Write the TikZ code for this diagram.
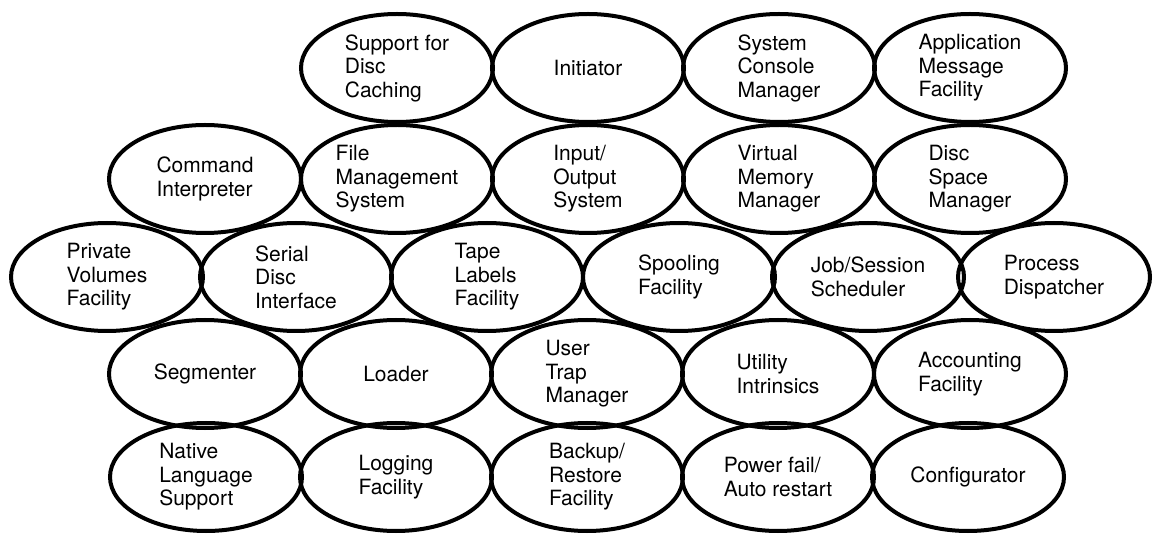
\documentclass[tikz,border=0pt]{standalone}
\usepackage{fontspec}
\setmainfont{TeX Gyre Heros}
\usetikzlibrary{shapes.geometric}

\tikzset{module/.style={ellipse, draw, line width=3pt, minimum width=144pt, minimum height=81pt, inner sep=0pt, align=left, font=\fontsize{15.75}{17.6}\selectfont}}

\begin{document}
\begin{tikzpicture}[x=0.75pt,y=0.75pt,yscale=-1,xscale=1]
\useasboundingbox (0,0) rectangle (1153,534);

% Top row
\node [module] (caching) at (397,68) {Support for\\Disc\\Caching};
\node [module] (initiator) at (588,68) {Initiator};
\node [module] (console) at (779,68) {System\\Console\\Manager};
\node [module] (appmsg) at (970,68) {Application\\Message\\Facility};

% Second row
\node [module] (cmdint) at (205,179) {Command\\Interpreter};
\node [module] (fms) at (397,179) {File\\Management\\System};
\node [module] (iosys) at (588,179) {Input/\\Output\\System};
\node [module] (vmm) at (779,179) {Virtual\\Memory\\Manager};
\node [module] (dsm) at (970,179) {Disc\\Space\\Manager};

% Third row
\node [module] (pvf) at (107,277) {Private\\Volumes\\Facility};
\node [module] (sdi) at (296,277) {Serial\\Disc\\Interface};
\node [module] (tlf) at (487,277) {Tape\\Labels\\Facility};
\node [module] (spool) at (679,277) {Spooling\\Facility};
\node [module] (jobsched) at (868,277) {Job/Session\\Scheduler};
\node [module] (dispatch) at (1054,277) {Process\\Dispatcher};

% Fourth row
\node [module] (segm) at (205,374) {Segmenter};
\node [module] (loader) at (396,374) {Loader};
\node [module] (trapmgr) at (587,374) {User\\Trap\\Manager};
\node [module] (utilint) at (778,374) {Utility\\Intrinsics};
\node [module] (acct) at (970,374) {Accounting\\Facility};

% Bottom row
\node [module] (nls) at (206,477) {Native\\Language\\Support};
\node [module] (logging) at (396,477) {Logging\\Facility};
\node [module] (backup) at (587,477) {Backup/\\Restore\\Facility};
\node [module] (powerfail) at (778,477) {Power fail/\\Auto restart};
\node [module] (config) at (968,477) {Configurator};

\end{tikzpicture}
\end{document}
